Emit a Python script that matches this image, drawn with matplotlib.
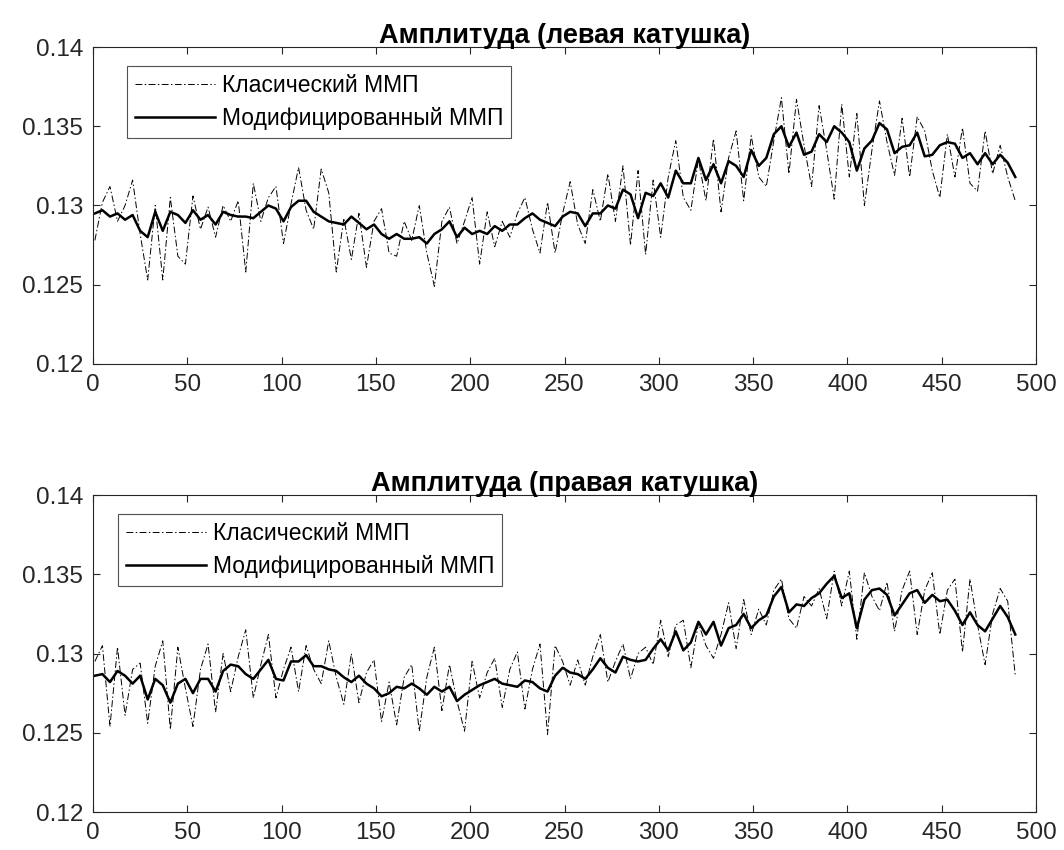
import numpy as np
import matplotlib
matplotlib.use("Agg")
import matplotlib.pyplot as plt

plt.rcParams['font.family'] = ['Liberation Sans', 'DejaVu Sans']

# sample index grid (every 4th sample)
x = np.arange(1, 490, 4)

# left coil
left_mod = [
    0.1295, 0.1297, 0.1293, 0.1295, 0.1291, 0.1294, 0.1284, 0.1280, 0.1296, 0.1284,
    0.1296, 0.1294, 0.1289, 0.1297, 0.1291, 0.1294, 0.1288, 0.1296, 0.1294, 0.1293,
    0.1293, 0.1292, 0.1296, 0.1300, 0.1298, 0.1290, 0.1299, 0.1303, 0.1303, 0.1296,
    0.1293, 0.1290, 0.1289, 0.1288, 0.1293, 0.1289, 0.1285, 0.1288, 0.1282, 0.1279,
    0.1282, 0.1279, 0.1279, 0.1280, 0.1276, 0.1282, 0.1285, 0.1290, 0.1280, 0.1286,
    0.1282, 0.1284, 0.1282, 0.1287, 0.1284, 0.1288, 0.1288, 0.1292, 0.1295, 0.1291,
    0.1289, 0.1287, 0.1293, 0.1296, 0.1295, 0.1287, 0.1295, 0.1295, 0.1300, 0.1298,
    0.1310, 0.1307, 0.1292, 0.1308, 0.1306, 0.1314, 0.1305, 0.1322, 0.1314, 0.1314,
    0.1330, 0.1316, 0.1326, 0.1314, 0.1328, 0.1325, 0.1318, 0.1335, 0.1325, 0.1330,
    0.1345, 0.1350, 0.1337, 0.1346, 0.1332, 0.1334, 0.1345, 0.1340, 0.1350, 0.1346,
    0.1340, 0.1322, 0.1336, 0.1341, 0.1352, 0.1348, 0.1333, 0.1337, 0.1338, 0.1346,
    0.1331, 0.1332, 0.1338, 0.1340, 0.1339, 0.1330, 0.1333, 0.1326, 0.1333, 0.1326,
    0.1332, 0.1327, 0.1318,
]
left_cls = [
    0.1278, 0.1302, 0.1312, 0.1290, 0.1300, 0.1316, 0.1282, 0.1253, 0.1300, 0.1253,
    0.1305, 0.1268, 0.1263, 0.1306, 0.1285, 0.1299, 0.1280, 0.1300, 0.1290, 0.1303,
    0.1258, 0.1314, 0.1290, 0.1305, 0.1312, 0.1276, 0.1301, 0.1324, 0.1297, 0.1285,
    0.1323, 0.1308, 0.1258, 0.1292, 0.1266, 0.1295, 0.1261, 0.1290, 0.1298, 0.1270,
    0.1268, 0.1290, 0.1278, 0.1300, 0.1270, 0.1249, 0.1290, 0.1299, 0.1276, 0.1290,
    0.1305, 0.1263, 0.1296, 0.1274, 0.1290, 0.1280, 0.1295, 0.1305, 0.1285, 0.1270,
    0.1302, 0.1270, 0.1295, 0.1315, 0.1288, 0.1276, 0.1310, 0.1290, 0.1320, 0.1290,
    0.1325, 0.1275, 0.1322, 0.1269, 0.1316, 0.1280, 0.1318, 0.1341, 0.1305, 0.1297,
    0.1329, 0.1303, 0.1342, 0.1296, 0.1330, 0.1347, 0.1303, 0.1344, 0.1318, 0.1312,
    0.1341, 0.1368, 0.1320, 0.1367, 0.1338, 0.1312, 0.1363, 0.1335, 0.1304, 0.1364,
    0.1318, 0.1358, 0.1300, 0.1335, 0.1366, 0.1340, 0.1319, 0.1355, 0.1318, 0.1356,
    0.1347, 0.1322, 0.1305, 0.1345, 0.1318, 0.1349, 0.1314, 0.1309, 0.1347, 0.1320,
    0.1338, 0.1318, 0.1303,
]

# right coil
right_mod = [
    0.1286, 0.1287, 0.1282, 0.1289, 0.1286, 0.1281, 0.1286, 0.1271, 0.1284, 0.1280,
    0.1269, 0.1281, 0.1284, 0.1275, 0.1284, 0.1284, 0.1276, 0.1289, 0.1293, 0.1292,
    0.1287, 0.1284, 0.1290, 0.1296, 0.1284, 0.1283, 0.1295, 0.1295, 0.1299, 0.1292,
    0.1292, 0.1290, 0.1289, 0.1285, 0.1282, 0.1286, 0.1281, 0.1278, 0.1273, 0.1275,
    0.1279, 0.1278, 0.1281, 0.1278, 0.1274, 0.1279, 0.1276, 0.1279, 0.1270, 0.1274,
    0.1277, 0.1280, 0.1282, 0.1284, 0.1281, 0.1280, 0.1279, 0.1283, 0.1282, 0.1278,
    0.1276, 0.1286, 0.1291, 0.1288, 0.1287, 0.1284, 0.1290, 0.1297, 0.1291, 0.1288,
    0.1298, 0.1296, 0.1295, 0.1296, 0.1303, 0.1309, 0.1302, 0.1314, 0.1302, 0.1307,
    0.1320, 0.1312, 0.1320, 0.1305, 0.1316, 0.1318, 0.1325, 0.1316, 0.1321, 0.1324,
    0.1336, 0.1342, 0.1326, 0.1331, 0.1330, 0.1335, 0.1338, 0.1344, 0.1349, 0.1335,
    0.1338, 0.1316, 0.1334, 0.1340, 0.1341, 0.1337, 0.1324, 0.1331, 0.1338, 0.1340,
    0.1332, 0.1337, 0.1333, 0.1334, 0.1327, 0.1318, 0.1326, 0.1318, 0.1314, 0.1322,
    0.1330, 0.1323, 0.1312,
]
right_cls = [
    0.1295, 0.1305, 0.1254, 0.1304, 0.1261, 0.1290, 0.1294, 0.1256, 0.1292, 0.1308,
    0.1252, 0.1304, 0.1278, 0.1254, 0.1290, 0.1306, 0.1263, 0.1300, 0.1276, 0.1298,
    0.1315, 0.1272, 0.1293, 0.1312, 0.1272, 0.1290, 0.1304, 0.1276, 0.1305, 0.1290,
    0.1281, 0.1308, 0.1285, 0.1268, 0.1300, 0.1269, 0.1288, 0.1296, 0.1257, 0.1282,
    0.1255, 0.1285, 0.1293, 0.1251, 0.1285, 0.1304, 0.1264, 0.1293, 0.1270, 0.1251,
    0.1295, 0.1272, 0.1288, 0.1297, 0.1266, 0.1290, 0.1301, 0.1265, 0.1290, 0.1306,
    0.1249, 0.1305, 0.1295, 0.1280, 0.1296, 0.1280, 0.1298, 0.1312, 0.1282, 0.1295,
    0.1306, 0.1284, 0.1300, 0.1304, 0.1293, 0.1321, 0.1298, 0.1318, 0.1321, 0.1291,
    0.1319, 0.1305, 0.1297, 0.1312, 0.1332, 0.1303, 0.1334, 0.1312, 0.1328, 0.1318,
    0.1340, 0.1347, 0.1322, 0.1316, 0.1336, 0.1330, 0.1341, 0.1322, 0.1352, 0.1330,
    0.1352, 0.1309, 0.1351, 0.1336, 0.1327, 0.1345, 0.1314, 0.1340, 0.1352, 0.1312,
    0.1340, 0.1351, 0.1312, 0.1340, 0.1347, 0.1301, 0.1347, 0.1318, 0.1293, 0.1325,
    0.1341, 0.1333, 0.1286,
]

titles = ['Амплитуда (левая катушка)', 'Амплитуда (правая катушка)']
labels = ['Класический ММП', 'Модифицированный ММП']
xticks = np.arange(0, 501, 50)
yticks = [0.12, 0.125, 0.13, 0.135, 0.14]
ytick_labels = ['0.12', '0.125', '0.13', '0.135', '0.14']

fig = plt.figure(figsize=(10.64, 8.5), dpi=100)
ax1 = fig.add_axes([0.0874, 0.5718, 0.8863, 0.3729])
ax2 = fig.add_axes([0.0874, 0.0447, 0.8863, 0.3729])

for ax, cls, mod, title, lx in [(ax1, left_cls, left_mod, titles[0], 0.036),
                                (ax2, right_cls, right_mod, titles[1], 0.026)]:
    ax.plot(x, cls, color='k', lw=0.7, linestyle=(0, (7, 2.5, 1.5, 2.5)), label=labels[0])
    ax.plot(x, mod, color='k', lw=1.8, label=labels[1])
    ax.set_xlim(0, 500)
    ax.set_ylim(0.12, 0.14)
    ax.set_xticks(xticks)
    ax.set_yticks(yticks)
    ax.set_yticklabels(ytick_labels)
    ax.tick_params(direction='in', top=True, right=True, labelsize=17.5, length=5,
                   color='#262626', labelcolor='#262626', pad=7)
    for s in ax.spines.values():
        s.set_color('#262626')
        s.set_linewidth(0.8)
    ax.set_title(title, fontsize=19.5, fontweight='bold', pad=3)
    leg = ax.legend(loc='upper left', bbox_to_anchor=(lx, 0.94), borderaxespad=0,
                    fontsize=16.5, frameon=True, fancybox=False,
                    edgecolor='#262626', handlelength=3.5,
                    labelspacing=0.45, borderpad=0.35, handletextpad=0.3)
    leg.get_frame().set_linewidth(0.8)

fig.savefig('out.png', dpi=100)
